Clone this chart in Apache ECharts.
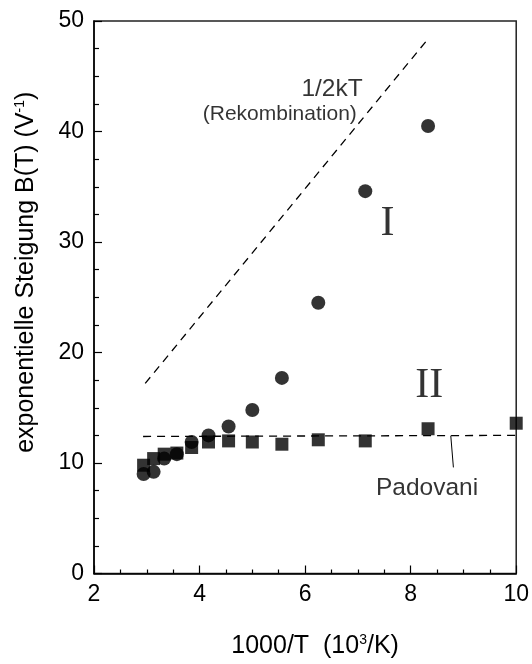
<!DOCTYPE html>
<html><head><meta charset="utf-8">
<script src="https://cdn.jsdelivr.net/npm/echarts@6/dist/echarts.min.js"></script>
<style>html,body{margin:0;padding:0;background:#fff}#c{width:532px;height:664px}</style>
</head><body><div id="c"></div>
<script>
// Series I (circles)
const xI = [2.94, 3.13, 3.33, 3.57, 3.85, 4.17, 4.55, 5.0, 5.56, 6.25, 7.14, 8.33];
const yI = [9.0, 9.2, 10.4, 10.8, 11.9, 12.5, 13.3, 14.8, 17.7, 24.5, 34.6, 40.5];
// Series II (squares)
const xII = [2.94, 3.13, 3.33, 3.57, 3.85, 4.17, 4.55, 5.0, 5.56, 6.25, 7.14, 8.33, 10.0];
const yII = [9.8, 10.4, 10.8, 10.9, 11.4, 11.9, 12.0, 11.9, 11.7, 12.1, 12.0, 13.1, 13.6];
// 1/2kT reference line
const xRek = [2.97, 8.35];
const yRek = [17.2, 48.5];
// Padovani reference line
const xPad = [2.93, 10.0];
const yPad = [12.4, 12.5];
// Padovani leader line
const xLead = [8.76, 8.81];
const yLead = [12.47, 9.6];
// Tick settings
const xTicks = {min: 2, max: 10, interval: 2};
const yTicks = {min: 0, max: 50, interval: 10};
// Annotations
const annotations = [
  {x: 6.51, y: 43.8, text: '1/2kT', kind: 'sans', align: 'center'},
  {x: 6.98, y: 41.6, text: '(Rekombination)', kind: 'small', align: 'right'},
  {x: 7.56, y: 31.6, text: 'I', kind: 'serif', align: 'center'},
  {x: 8.35, y: 17.0, text: 'II', kind: 'serif', align: 'center'},
  {x: 8.31, y: 7.7, text: 'Padovani', kind: 'sans', align: 'center'}
];

const SANS = 'Liberation Sans, Arial, sans-serif';
const SERIF = 'Liberation Serif, Times New Roman, serif';
const zip = (a, b) => a.map((v, i) => [v, b[i]]);
const styles = {
  sans: {fontFamily: SANS, fontSize: 24.5, color: '#000'},
  small: {fontFamily: SANS, fontSize: 21, color: '#000'},
  serif: {fontFamily: SERIF, fontSize: 42, color: '#000'}
};
const supStyle = {fontFamily: SANS, fontSize: 14, color: '#000', verticalAlign: 'top', padding: [0, 0, 12, 0]};

const chart = echarts.init(document.getElementById('c'), null, {renderer: 'canvas'});
const dashed = {color: '#000', width: 1.3, type: [8, 6]};
chart.setOption({
  animation: false,
  grid: {left: 94, right: 15, top: 21, bottom: 87, show: true, borderColor: '#222', borderWidth: 1.5, backgroundColor: 'transparent'},
  xAxis: {
    type: 'value', min: xTicks.min, max: xTicks.max, interval: xTicks.interval,
    name: '1000/T  (10{sup|3}/K)', nameLocation: 'middle', nameGap: 60,
    nameTextStyle: {fontFamily: SANS, fontSize: 25, color: '#000', padding: [0, 0, 0, 20], rich: {sup: supStyle}},
    axisLine: {onZero: false, lineStyle: {color: '#000', width: 1.5}},
    axisTick: {inside: true, length: 8, lineStyle: {color: '#000', width: 1.2}},
    minorTick: {show: true, splitNumber: 4, length: 4, lineStyle: {color: '#000', width: 1.2}},
    axisLabel: {fontFamily: SANS, fontSize: 23, color: '#000', margin: 10},
    splitLine: {show: false}
  },
  yAxis: {
    type: 'value', min: yTicks.min, max: yTicks.max, interval: yTicks.interval,
    name: 'exponentielle Steigung B(T) (V{sup|-1})', nameLocation: 'middle', nameGap: 55,
    nameTextStyle: {fontFamily: SANS, fontSize: 25, color: '#000', padding: [0, 0, 0, 50], rich: {sup: supStyle}},
    axisLine: {onZero: false, lineStyle: {color: '#000', width: 1.5}},
    axisTick: {inside: true, length: 8, lineStyle: {color: '#000', width: 1.2}},
    minorTick: {show: true, splitNumber: 4, length: 5, lineStyle: {color: '#000', width: 1.2}},
    axisLabel: {fontFamily: SANS, fontSize: 23, color: '#000', margin: 10},
    splitLine: {show: false}
  },
  series: [
    {type: 'line', data: zip(xRek, yRek), symbol: 'none', lineStyle: dashed, z: 1},
    {type: 'line', data: zip(xPad, yPad), symbol: 'none', lineStyle: dashed, z: 1},
    {type: 'line', data: zip(xLead, yLead), symbol: 'none', lineStyle: {color: '#000', width: 1}, z: 1},
    {type: 'scatter', data: zip(xII, yII), symbol: 'rect', symbolSize: 13, itemStyle: {color: '#000'}, z: 3},
    {type: 'scatter', data: zip(xI, yI), symbol: 'circle', symbolSize: 14, itemStyle: {color: '#000'}, z: 4},
    {type: 'scatter', symbolSize: 0, z: 5,
      data: annotations.map(a => ({value: [a.x, a.y],
        label: Object.assign({show: true, position: 'inside', formatter: a.text, align: a.align,
          verticalAlign: 'middle', offset: [0, 0]}, styles[a.kind])}))}
  ]
});
</script></body></html>
